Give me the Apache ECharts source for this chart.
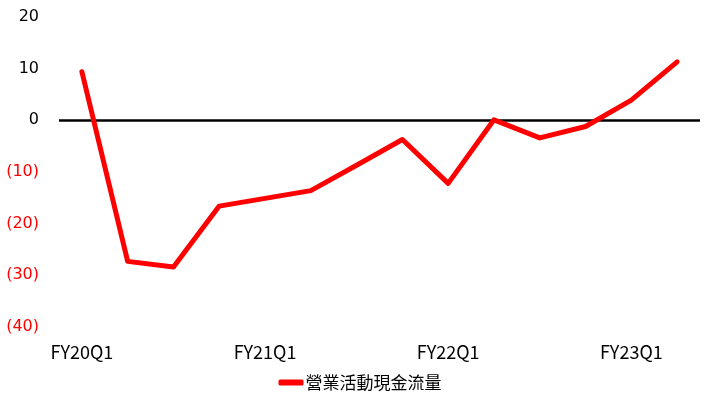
<!DOCTYPE html>
<html>
<head>
<meta charset="utf-8">
<script src="https://cdn.jsdelivr.net/npm/echarts@6/dist/echarts.min.js"></script>
<style>html,body{margin:0;padding:0;background:#fff}#c{width:720px;height:407px}</style>
</head>
<body>
<div id="c"></div>
<script>
var categories = ['FY20Q1','FY20Q2','FY20Q3','FY20Q4','FY21Q1','FY21Q2','FY21Q3','FY21Q4','FY22Q1','FY22Q2','FY22Q3','FY22Q4','FY23Q1','FY23Q2'];
var cashFlow = [9.4, -27.3, -28.4, -16.6, -15.1, -13.6, -8.7, -3.7, -12.2, 0.1, -3.4, -1.2, 3.9, 11.3];
var seriesName = '營業活動現金流量';
var yTicks = [-40, -30, -20, -10, 0, 10, 20];

var chart = echarts.init(document.getElementById('c'));
chart.setOption({
  animation: false,
  grid: { left: 59, right: 20, top: 17, bottom: 80 },
  legend: {
    data: [seriesName],
    bottom: 11,
    left: 'center',
    itemWidth: 25,
    itemHeight: 6,
    itemGap: 2,
    icon: 'roundRect',
    textStyle: { fontFamily: 'Noto Sans CJK TC', fontSize: 17, color: '#000', padding: [0,0,0,-3] }
  },
  xAxis: {
    type: 'category',
    data: categories,
    boundaryGap: true,
    axisLine: { show: false, onZero: false },
    axisTick: { show: false },
    axisLabel: {
      interval: 3,
      margin: 16,
      color: '#000',
      fontFamily: 'Noto Sans CJK TC',
      fontSize: 18
    }
  },
  yAxis: {
    type: 'value',
    min: yTicks[0],
    max: yTicks[yTicks.length - 1],
    interval: 10,
    splitLine: { show: false },
    axisLine: { show: false },
    axisTick: { show: false },
    axisLabel: {
      margin: 20,
      fontFamily: 'DejaVu Sans',
      fontSize: 16,
      formatter: function (v) { return v < 0 ? '{n|(' + Math.abs(v) + ')}' : '{p|' + v + '}'; },
      rich: {
        n: { color: '#ff0000', fontFamily: 'DejaVu Sans', fontSize: 16 },
        p: { color: '#000', fontFamily: 'DejaVu Sans', fontSize: 16 }
      }
    }
  },
  series: [{
    name: seriesName,
    type: 'line',
    data: cashFlow,
    symbol: 'none',
    lineStyle: { color: '#ff0000', width: 5, cap: 'round', join: 'round' },
    itemStyle: { color: '#ff0000' },
    z: 3,
    markLine: {
      silent: true,
      symbol: 'none',
      label: { show: false },
      lineStyle: { color: '#000', width: 2.5, type: 'solid' },
      data: [{ yAxis: 0 }],
      z: 2
    }
  }]
});
</script>
</body>
</html>
